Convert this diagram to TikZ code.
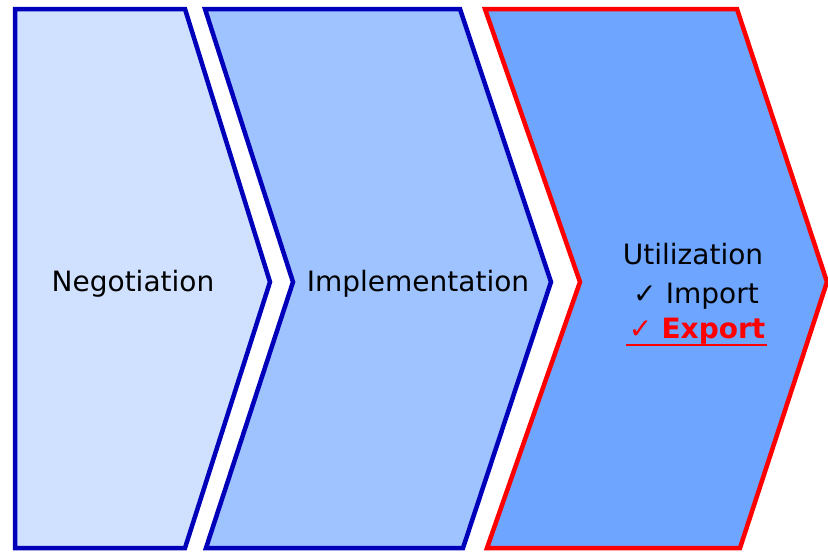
\documentclass[tikz,border=0pt]{standalone}
\usepackage{fontspec}
\setmainfont{DejaVu Sans}
\definecolor{fillA}{HTML}{CFE1FF}
\definecolor{fillB}{HTML}{9EC3FF}
\definecolor{fillC}{HTML}{6EA5FF}
\definecolor{edgeblue}{HTML}{0000BB}
\definecolor{edgered}{HTML}{FF0000}
\tikzset{
  chev/.style={line width=4.5pt, line join=miter},
  lbl/.style={font=\fontsize{28}{34}\selectfont, inner sep=0pt, anchor=center}
}
\begin{document}
\begin{tikzpicture}[x=1pt,y=-1pt]
\useasboundingbox (0,0) rectangle (828,552);
\fill[white] (0,0) rectangle (828,552);
% chevrons
\draw[chev, fill=fillA, draw=edgeblue] (15,9) -- (185,9) -- (270,282) -- (185,548) -- (15,548) -- cycle;
\draw[chev, fill=fillB, draw=edgeblue] (205,9) -- (460,9) -- (551,282) -- (463,548) -- (206,548) -- (293,282) -- cycle;
\draw[chev, fill=fillC, draw=edgered] (485,9) -- (737,9) -- (827,282) -- (740,548) -- (487,548) -- (580,282) -- cycle;
% labels
\node[lbl] (neg) at (133,284) {Negotiation};
\node[lbl] (imp) at (418,284) {Implementation};
\node[lbl] (uti) at (693,254) {Utilization};
\node[lbl] (imx) at (696,296) {✓\,\,Import};
\node[lbl, text=edgered, font=\fontsize{28}{34}\selectfont\bfseries] (exp) at (697,331) {✓\,\,Export};
\draw[draw=edgered, line width=2pt] ([xshift=-3pt,yshift=-1pt]exp.south west) -- ([xshift=2pt,yshift=-1pt]exp.south east);
\end{tikzpicture}
\end{document}
